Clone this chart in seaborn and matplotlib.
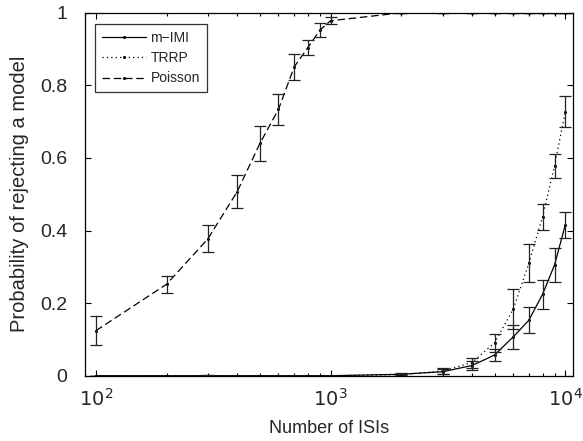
import numpy as np
import pandas as pd
import matplotlib
matplotlib.use("Agg")
import matplotlib.pyplot as plt
import seaborn as sns
from matplotlib.ticker import LogLocator, FixedLocator, NullFormatter

n_isis = [100, 200, 300, 400, 500, 600, 700, 800, 900, 1000,
          2000, 3000, 4000, 5000, 6000, 7000, 8000, 9000, 10000]

mimi = [0.0, 0.0, 0.0, 0.0, 0.0, 0.0, 0.0, 0.0, 0.0, 0.0,
        0.004, 0.011, 0.028, 0.057, 0.107, 0.153, 0.224, 0.305, 0.415]
mimi_err = [0.0, 0.0, 0.002, 0.0, 0.0, 0.0, 0.0, 0.0, 0.0, 0.0,
            0.003, 0.007, 0.012, 0.016, 0.034, 0.036, 0.040, 0.047, 0.035]

trrp = [0.0, 0.0, 0.0, 0.0, 0.0, 0.0, 0.0, 0.0, 0.0, 0.0,
        0.003, 0.013, 0.036, 0.091, 0.183, 0.310, 0.438, 0.578, 0.727]
trrp_err = [0.0, 0.0, 0.002, 0.0, 0.0, 0.0, 0.0, 0.0, 0.0, 0.0,
            0.003, 0.007, 0.014, 0.025, 0.055, 0.052, 0.036, 0.034, 0.043]

poisson = [0.124, 0.252, 0.377, 0.507, 0.640, 0.734, 0.851, 0.904, 0.952, 0.978,
           1.0, 1.0, 1.0, 1.0, 1.0, 1.0, 1.0, 1.0, 1.0]
poisson_err = [0.040, 0.023, 0.037, 0.046, 0.047, 0.043, 0.036, 0.021, 0.020, 0.010,
               0.0, 0.0, 0.0, 0.0, 0.0, 0.0, 0.0, 0.0, 0.0]

series_names = ["m\u2212IMI", "TRRP", "Poisson"]
series_vals = [mimi, trrp, poisson]
series_errs = [mimi_err, trrp_err, poisson_err]
dash_styles = [(None), (1, 2.5), (6, 3)]

sns.set_theme(style="ticks")
plt.rcParams["font.family"] = ["Liberation Sans", "DejaVu Sans"]

fig = plt.figure(figsize=(5.83, 4.41), dpi=100)
ax = fig.add_axes([0.146, 0.148, 0.837, 0.823])

df = pd.concat([
    pd.DataFrame({"n": n_isis, "p": v, "model": name})
    for name, v in zip(series_names, series_vals)
])

for name, v, e, ds in zip(series_names, series_vals, series_errs, dash_styles):
    sub = df[df["model"] == name]
    sns.lineplot(data=sub, x="n", y="p", ax=ax, color="black", lw=0.9,
                 marker="o", markersize=2.2, markeredgewidth=0,
                 label=name)
    line = ax.get_lines()[-1]
    if ds is not None:
        line.set_dashes(ds)
    ax.errorbar(n_isis, v, yerr=e, fmt="none", ecolor="#222222",
                elinewidth=0.9, capsize=4, capthick=0.9)

ax.set_xscale("log")
ax.set_xlim(90, 10800)
ax.set_ylim(0, 1)
ax.set_yticks([0, 0.2, 0.4, 0.6, 0.8, 1.0])
ax.set_yticklabels(["0", "0.2", "0.4", "0.6", "0.8", "1"])
ax.xaxis.set_major_locator(FixedLocator([100, 1000, 10000]))
ax.xaxis.set_minor_locator(LogLocator(base=10, subs=np.arange(2, 10)))
ax.xaxis.set_minor_formatter(NullFormatter())
ax.set_xticklabels(["$10^2$", "$10^3$", "$10^4$"])

ax.tick_params(which="both", direction="in", top=True, right=True,
               labelsize=14, color="black", width=0.8)
ax.tick_params(which="major", length=4)
ax.tick_params(axis="y", which="major", pad=13)
ax.tick_params(axis="x", which="major", pad=9)
ax.tick_params(which="minor", length=2.5)
for s in ax.spines.values():
    s.set_color("black")
    s.set_linewidth(0.9)

ax.set_xlabel("Number of ISIs", fontsize=13, labelpad=7)
ax.set_ylabel("Probability of rejecting a model", fontsize=14.5, labelpad=8)

handles, labels = ax.get_legend_handles_labels()
leg = ax.legend(handles[:3], labels[:3], loc="upper left",
                bbox_to_anchor=(0.02, 0.969), fontsize=10,
                frameon=True, fancybox=False, edgecolor="black",
                handlelength=3.2, borderpad=0.5, labelspacing=0.45,
                handletextpad=0.3, borderaxespad=0)
leg.get_frame().set_linewidth(0.9)

fig.savefig("out.png", dpi=100)
